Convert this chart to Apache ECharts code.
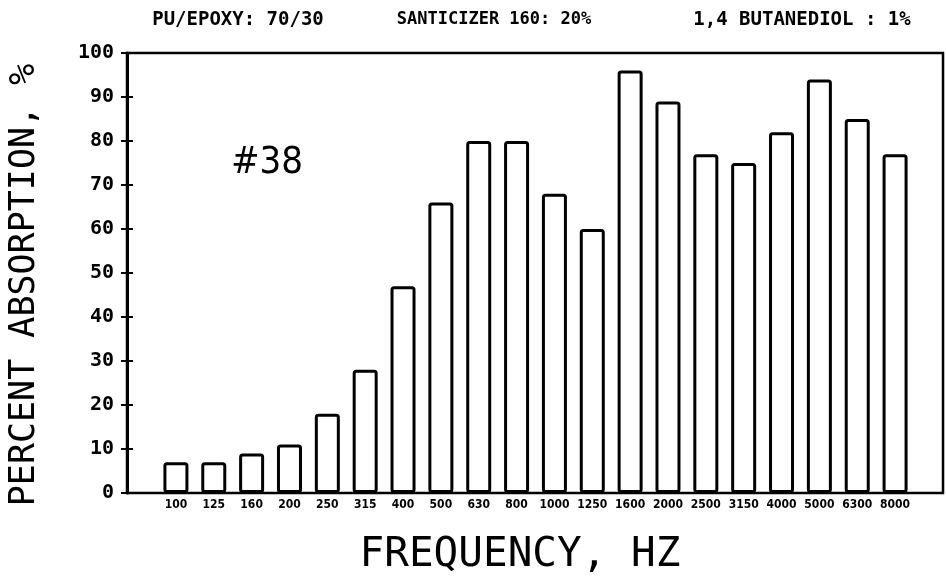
<!DOCTYPE html>
<html>
<head>
<meta charset="utf-8">
<script src="https://cdn.jsdelivr.net/npm/echarts@6/dist/echarts.min.js"></script>
<style>
html,body{margin:0;padding:0;background:#fff;}
#chart{width:946px;height:579px;}
</style>
</head>
<body>
<div id="chart"></div>
<script>
const categories = ['100','125','160','200','250','315','400','500','630','800','1000','1250','1600','2000','2500','3150','4000','5000','6300','8000'];
const absorption = [7,7,9,11,18,28,47,66,80,80,68,60,96,89,77,75,82,94,85,77];
const yTicks = [0,10,20,30,40,50,60,70,80,90,100];
const headerTexts = ['PU/EPOXY: 70/30','SANTICIZER 160: 20%','1,4 BUTANEDIOL : 1%'];
const sampleLabel = '#38';
const xTitle = 'FREQUENCY, HZ';
const yTitle = 'PERCENT ABSORPTION, %';

const chart = echarts.init(document.getElementById('chart'), null, {renderer:'canvas'});
const mono = "'DejaVu Sans Mono', monospace";
const narrow = "'Liberation Sans Narrow','DejaVu Sans Condensed', sans-serif";

const option = {
  backgroundColor: '#fff',
  animation: false,
  grid: [
    {left:127, right:3, top:53, bottom:86, show:true, borderColor:'#000', borderWidth:2.5, backgroundColor:'transparent'},
    {left:157, right:32, top:53, bottom:86, show:false}
  ],
  xAxis: [
    {gridIndex:0, type:'value', min:0, max:1, show:false},
    {gridIndex:1, type:'category', data:categories,
     axisLine:{show:false}, axisTick:{show:false},
     axisLabel:{color:'#000', fontFamily:narrow, fontWeight:'bold', fontSize:12, margin:6, interval:0}}
  ],
  yAxis: [
    {gridIndex:0, type:'value', min:yTicks[0], max:yTicks[yTicks.length-1], interval:10,
     axisLine:{show:true, lineStyle:{color:'#000', width:3}},
     axisTick:{show:true, inside:false, length:6, lineStyle:{color:'#000', width:2}},
     splitLine:{show:false},
     axisLabel:{color:'#000', fontFamily:mono, fontWeight:'bold', fontSize:20, margin:13}},
    {gridIndex:0, type:'value', min:0, max:100, interval:10, position:'left',
     axisLine:{show:false},
     axisTick:{show:true, inside:true, length:6, lineStyle:{color:'#000', width:2}},
     splitLine:{show:false}, axisLabel:{show:false}},
    {gridIndex:1, type:'value', min:0, max:100, show:false}
  ],
  series: [{
    type:'bar', xAxisIndex:1, yAxisIndex:2, data:absorption,
    barWidth:25,
    itemStyle:{color:'#fff', borderColor:'#000', borderWidth:3, borderRadius:2}
  }],
  graphic: [
    {type:'text', x:238, y:20, style:{text:headerTexts[0], font:"bold 19px 'DejaVu Sans Mono'", fill:'#000', textAlign:'center', textVerticalAlign:'middle'}},
    {type:'text', x:494, y:20, style:{text:headerTexts[1], font:"bold 17px 'DejaVu Sans Mono'", fill:'#000', textAlign:'center', textVerticalAlign:'middle'}},
    {type:'text', x:802, y:20, style:{text:headerTexts[2], font:"bold 19px 'DejaVu Sans Mono'", fill:'#000', textAlign:'center', textVerticalAlign:'middle'}},
    {type:'text', x:267, y:163, style:{text:sampleLabel, font:"38px 'Liberation Sans Narrow','DejaVu Sans Condensed'", fill:'#000', textAlign:'center', textVerticalAlign:'middle'}},
    {type:'text', x:520, y:555, style:{text:xTitle, font:"41px 'DejaVu Sans Mono'", fill:'#000', textAlign:'center', textVerticalAlign:'middle'}},
    {type:'text', x:25, y:285, rotation:Math.PI/2, style:{text:yTitle, font:"35px 'DejaVu Sans Mono'", fill:'#000', textAlign:'center', textVerticalAlign:'middle'}}
  ]
};
chart.setOption(option);
</script>
</body>
</html>
